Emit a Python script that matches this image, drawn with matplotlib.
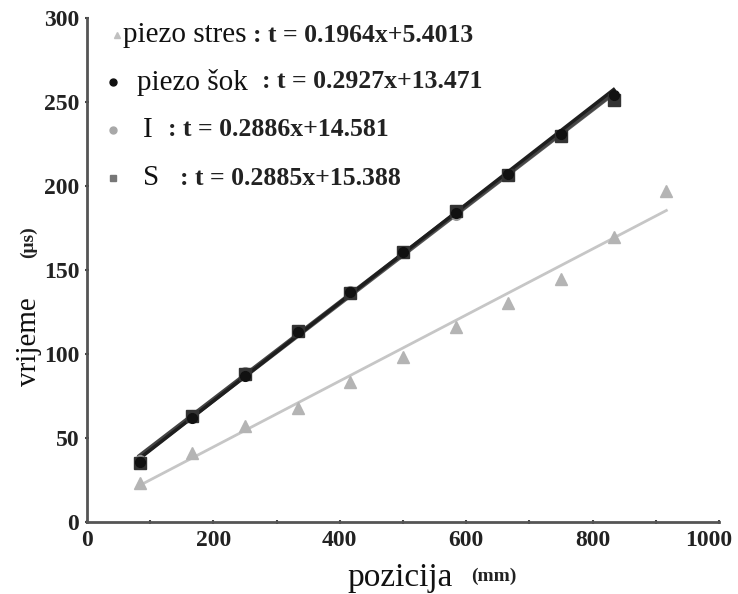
import matplotlib
matplotlib.use('Agg')
import matplotlib.pyplot as plt
import matplotlib.transforms as mtransforms
import numpy as np

# positions along the bar (mm)
pozicija = [83.3, 166.7, 250.0, 333.3, 416.7, 500.0, 583.3, 666.7, 750.0, 833.3, 916.7]

# measured times (us)
t_stres = [23.2, 41.0, 57.0, 68.0, 83.3, 98.2, 116.1, 130.4, 144.6, 169.6, 197.0]
t_sok = [36.0, 62.0, 87.0, 113.0, 137.0, 161.0, 184.0, 207.0, 231.0, 254.0]
t_I = [37.0, 63.5, 89.5, 114.0, 137.5, 160.5, 183.0, 206.0, 230.0, 252.5]
t_S = [35.0, 63.0, 88.0, 113.5, 136.5, 161.0, 185.0, 206.5, 229.5, 251.0]

# linear fits as printed on the chart (slope, intercept)
fit_stres = (0.1964, 5.4013)
fit_sok = (0.2927, 13.471)
fit_I = (0.2886, 14.581)
fit_S = (0.2885, 15.388)

names = ['piezo stres', 'piezo šok', 'I', 'S']
equations = [': t = 0.1964x+5.4013', ': t = 0.2927x+13.471', ': t = 0.2886x+14.581', ': t = 0.2885x+15.388']

plt.rcParams['font.family'] = ['Liberation Serif', 'DejaVu Serif']

fig = plt.figure(figsize=(7.38, 5.94), dpi=100)
ax = fig.add_axes([87/738, 1-522/594, (719-87)/738, (522-18)/594])

x_short = np.array(pozicija[:10])
x_long = np.array(pozicija)

# fit lines
ax.plot(x_long, fit_stres[0]*x_long + fit_stres[1], color='#c6c6c6', lw=2, zorder=2)
ax.plot(x_short, fit_I[0]*x_short + fit_I[1], color='#555555', lw=3, zorder=2)
ax.plot(x_short, fit_S[0]*x_short + fit_S[1], color='#444444', lw=3, zorder=2)
ax.plot(x_short, fit_sok[0]*x_short + fit_sok[1], color='#1e1e1e', lw=2.5, zorder=3)

# points
ax.plot(pozicija, t_stres, '^', color='#b4b4b4', ms=8, ls='none', zorder=4)
ax.plot(pozicija[:10], t_I, 'o', color='#9a9a9a', ms=7, ls='none', zorder=4)
ax.plot(pozicija[:10], t_S, 's', color='#333333', ms=8, ls='none', zorder=4)
ax.plot(pozicija[:10], t_sok, 'o', color='#111111', ms=7, ls='none', zorder=5)

ax.set_xlim(0, 1000)
ax.set_ylim(0, 300)
ax.set_xticks(np.arange(0, 1001, 200))
ax.set_xticks(np.arange(0, 1001, 100), minor=True)
ax.set_yticks(np.arange(0, 301, 50))
for side in ['top', 'right']:
    ax.spines[side].set_visible(False)
for side in ['left', 'bottom']:
    ax.spines[side].set_color('#555555')
    ax.spines[side].set_linewidth(2)
ax.tick_params(which='both', direction='inout', length=3, width=1.5, color='#444444')
ax.tick_params(axis='both', labelsize=17, pad=4, labelcolor='#222222')
for lab in ax.get_xticklabels() + ax.get_yticklabels():
    lab.set_fontweight('bold')
# last x label sits a bit left of its tick in the original
last = ax.get_xticklabels()[-1]
last.set_transform(last.get_transform() + mtransforms.ScaledTranslation(-10/100, 0, fig.dpi_scale_trans))

# axis titles
fig.text(400/738, 1-578/594, 'pozicija', fontsize=24, ha='center', va='center', color='#111111')
fig.text(494/738, 1-576/594, '(mm)', fontsize=14, fontweight='bold', ha='center', va='center', color='#222222')
fig.text(29/738, 1-342/594, 'vrijeme', fontsize=21, rotation=90, ha='center', va='center', color='#111111')
fig.text(28/738, 1-242/594, '(μs)', fontsize=14, fontweight='bold', rotation=90, ha='center', va='center', color='#222222')

# legend drawn by hand
marker_x = [117, 113, 113, 113]
name_x = [123, 137, 143, 143]
eq_x = [253, 262, 168, 180]
row_y = [35, 82, 130, 178]
markers = ['^', 'o', 'o', 's']
mcolors = ['#c0c0c0', '#111111', '#a8a8a8', '#777777']
for k in range(0, 4):
    fy = 1 - row_y[k]/594
    fig.lines.append(plt.Line2D([marker_x[k]/738], [fy], marker=markers[k], color=mcolors[k],
                                ms=5, ls='none', transform=fig.transFigure))
    fig.text(name_x[k]/738, fy, names[k], fontsize=21, ha='left', va='center', color='#111111')
    fig.text(eq_x[k]/738, fy, equations[k], fontsize=18.5, fontweight='bold', ha='left', va='center', color='#222222')

plt.savefig('out.png', dpi=100)
